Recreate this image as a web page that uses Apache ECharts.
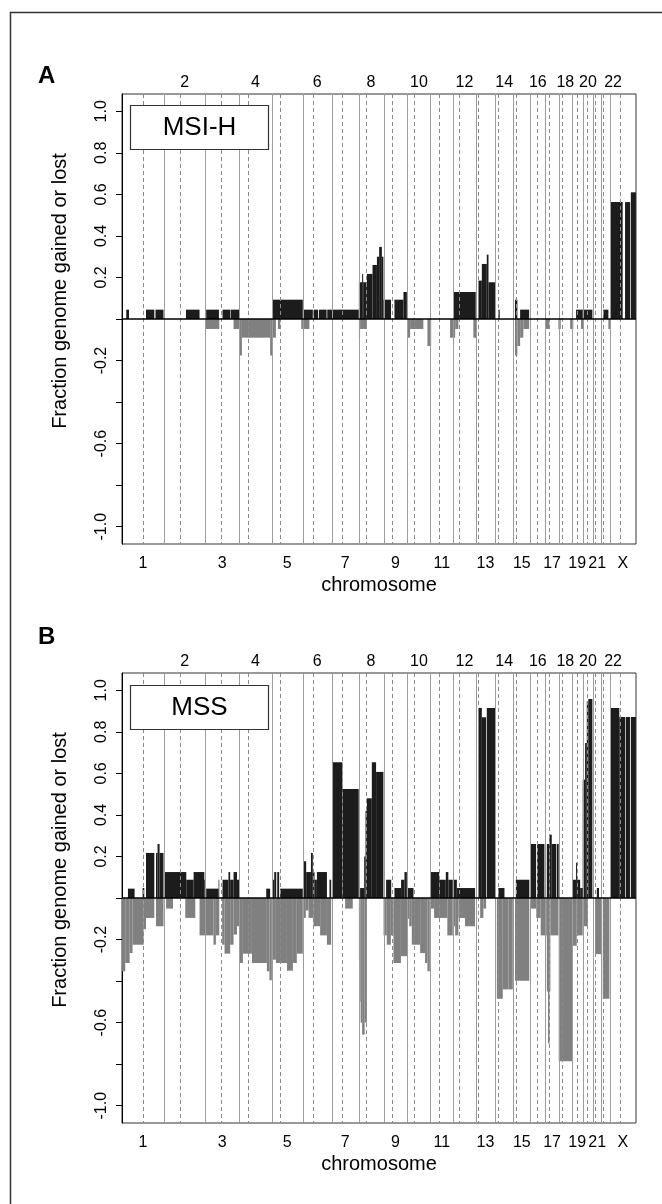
<!DOCTYPE html>
<html><head><meta charset="utf-8">
<script src="https://cdn.jsdelivr.net/npm/echarts@6/dist/echarts.min.js"></script>
<style>html,body{margin:0;padding:0;background:#fff}#c{width:662px;height:1204px}</style>
</head><body><div id="c"></div>
<script>
// ---- chromosome layout (Mb) ----
const chromNames = ['1','2','3','4','5','6','7','8','9','10','11','12','13','14','15','16','17','18','19','20','21','22','X'];
const chromLengths = [247.2,242.8,199.5,191.3,180.9,170.9,158.8,146.3,140.3,135.4,134.5,132.3,114.1,106.4,100.3,88.8,78.8,76.1,63.8,62.4,46.9,49.7,154.9];
const centromeres = [124.3,93.3,91.7,51,47.7,60.5,59.1,45.2,51.8,40.3,52.9,35.4,16,15.6,17,38.2,22.2,16.1,28.5,27.1,12.3,11.8,59.5];
const yTicks = [-1,-0.8,-0.6,-0.4,-0.2,0,0.2,0.4,0.6,0.8,1];
const yLabels = [1,0.8,0.6,0.4,0.2,-0.2,-0.6,-1];

// ---- segments: [start Mb (genome), end Mb (genome), fraction] ----
const msiGains = [
[25,41,0.045],[141,190,0.045],[197,244,0.045],[376,456,0.045],[495,570,0.045],[591,636,0.045],[639,689,0.045],
[882,1063,0.093],[1064,1122,0.045],[1127,1153,0.045],[1158,1203,0.045],[1207,1237,0.045],[1238,1392,0.045],
[1393,1412,0.177],[1412,1418,0.217],[1418,1440,0.177],[1440,1473,0.217],[1473,1499,0.26],[1499,1512,0.30],[1512,1528,0.347],[1528,1537,0.30],
[1538,1582,0.093],[1602,1655,0.093],[1655,1675,0.13],
[1948,2080,0.13],
[2096,2116,0.185],[2116,2145,0.265],[2145,2155,0.31],[2155,2194,0.177],
[2213,2221,0.045],[2311,2325,0.093],[2341,2394,0.045],
[2670,2709,0.045],[2709,2766,0.045],[2830,2860,0.045],
[2870,2944,0.563],[2958,2988,0.563],[2992,3022,0.61]
];
const msiLosses = [
[491,572,-0.048],[656,689,-0.048],[689,705,-0.176],[705,871,-0.09],[871,885,-0.176],[885,905,-0.09],[917,931,-0.048],
[1054,1102,-0.048],[1393,1400,-0.09],[1400,1440,-0.048],
[1681,1694,-0.09],[1694,1772,-0.048],[1796,1818,-0.13],
[1929,1959,-0.09],[1959,1978,-0.048],[2066,2082,-0.09],
[2311,2325,-0.176],[2325,2341,-0.13],[2341,2360,-0.09],[2360,2394,-0.048],
[2488,2513,-0.048],[2566,2580,-0.048],[2635,2654,-0.048],[2699,2713,-0.048],[2860,2874,-0.048]
];
const mssGains = [
[35,74,0.045],[121,131,0.048],[141,190,0.217],[200,209,0.217],[209,221,0.26],[221,244,0.217],
[250,378,0.125],[378,421,0.088],[421,484,0.125],[484,494,0.088],
[495,568,0.045],[568,572,0.088],[591,626,0.088],[626,636,0.125],[636,656,0.088],[656,676,0.125],[676,688,0.088],
[848,871,0.045],
[882,895,0.088],[895,907,0.125],[913,924,0.125],[930,1063,0.045],
[1067,1083,0.177],[1083,1111,0.125],[1111,1122,0.217],[1122,1132,0.125],[1132,1146,0.088],[1146,1205,0.125],[1220,1230,0.088],
[1238,1296,0.653],[1296,1392,0.525],
[1400,1424,0.048],[1424,1432,0.2],[1432,1440,0.42],[1440,1469,0.48],[1469,1494,0.653],[1494,1537,0.607],
[1553,1583,0.088],[1602,1641,0.048],[1641,1661,0.088],[1661,1675,0.125],
[1681,1714,0.048],
[1814,1865,0.125],[1865,1904,0.088],[1904,1919,0.125],[1919,1945,0.088],
[1948,1969,0.088],[1969,2076,0.048],
[2096,2116,0.915],[2116,2141,0.87],[2145,2194,0.915],
[2213,2249,0.048],[2316,2395,0.088],
[2401,2435,0.26],[2441,2484,0.26],
[2498,2513,0.26],[2513,2527,0.305],[2527,2552,0.26],[2556,2568,0.26],
[2650,2670,0.088],[2670,2676,0.17],[2676,2694,0.088],[2694,2709,0.048],
[2709,2723,0.57],[2723,2733,0.746],[2733,2742,0.947],[2742,2766,0.958],
[2792,2805,0.048],
[2870,2924,0.915],[2924,2958,0.872],[2962,2987,0.872],[2992,3022,0.872]
];
const mssLosses = [
[0,19,-0.353],[19,45,-0.313],[45,62,-0.265],[62,127,-0.225],[127,141,-0.15],[141,190,-0.096],[200,244,-0.136],
[259,300,-0.051],[372,431,-0.096],[456,494,-0.18],
[494,538,-0.18],[538,552,-0.225],[552,572,-0.18],[589,603,-0.225],[603,636,-0.268],[636,656,-0.225],[656,676,-0.176],[676,689,-0.136],
[689,711,-0.313],[711,764,-0.268],[764,852,-0.313],[852,867,-0.353],[867,881,-0.396],
[881,905,-0.297],[905,970,-0.313],[970,1005,-0.35],[1005,1028,-0.313],[1028,1063,-0.268],
[1064,1081,-0.096],[1081,1097,-0.06],[1097,1126,-0.096],[1126,1165,-0.136],[1165,1205,-0.18],[1205,1230,-0.225],
[1312,1357,-0.051],
[1393,1397,-0.3],[1397,1403,-0.5],[1403,1412,-0.6],[1412,1427,-0.658],[1427,1440,-0.6],
[1538,1557,-0.18],[1557,1581,-0.225],[1581,1596,-0.18],[1596,1640,-0.313],[1640,1681,-0.28],
[1681,1689,-0.1],[1689,1704,-0.136],[1704,1753,-0.225],[1753,1782,-0.265],[1782,1796,-0.313],[1796,1810,-0.353],
[1814,1835,-0.051],[1835,1913,-0.096],[1913,1945,-0.18],
[1948,1959,-0.136],[1959,1978,-0.18],[1978,2017,-0.096],[2017,2076,-0.136],
[2106,2125,-0.096],[2125,2141,-0.051],
[2204,2239,-0.485],[2239,2272,-0.44],[2272,2298,-0.44],
[2311,2395,-0.398],
[2401,2436,-0.051],[2436,2462,-0.096],[2462,2488,-0.18],
[2490,2498,-0.18],[2498,2505,-0.45],[2505,2514,-0.70],[2514,2519,-0.45],[2519,2566,-0.18],
[2568,2648,-0.786],
[2648,2674,-0.23],[2674,2709,-0.18],
[2709,2739,-0.136],[2782,2821,-0.27],[2827,2866,-0.485]
];

// ---- derived positions ----
const offsets = []; let acc = 0;
chromLengths.forEach(l => { offsets.push(acc); acc += l; });
const genomeLength = acc;
const mids = chromLengths.map((l, i) => offsets[i] + l / 2);
const boundaries = offsets.slice(1).concat([genomeLength]);
const cenPositions = centromeres.map((c, i) => offsets[i] + c);
// label anchor per chromosome (chr22 label nudged right, as in the original figure)
const labelPos = mids.map((m, i) => chromNames[i] === '22' ? m + 45 : m);
const bottomPos = labelPos.filter((m, i) => i % 2 === 0);
const topPos = labelPos.filter((m, i) => i % 2 === 1);
function chromLabel(v) {
  let best = 0, bd = Infinity;
  labelPos.forEach((m, i) => { const d = Math.abs(m - v); if (d < bd) { bd = d; best = i; } });
  return chromNames[best];
}
const YMAX = 1.0833;

const FONT = '"Liberation Sans", Arial, Helvetica, sans-serif';
const GRID_LEFT = 122, GRID_W = 514, GRID_H = 450;
const panelTops = [94, 673];

function barRender(params, api) {
  const s = api.value(0), e = api.value(1), v = api.value(2);
  const p1 = api.coord([s, v]);
  const p2 = api.coord([e, 0]);
  return { type: 'rect',
    shape: { x: p1[0], y: Math.min(p1[1], p2[1]), width: p2[0] - p1[0], height: Math.abs(p2[1] - p1[1]) },
    style: { fill: api.visual('color') } };
}
function vlineRender(dashed) {
  return function (params, api) {
    const x = api.value(0);
    const a = api.coord([x, YMAX]), b = api.coord([x, -YMAX]);
    return { type: 'line', shape: { x1: Math.round(a[0]) + 0.5, y1: a[1], x2: Math.round(a[0]) + 0.5, y2: b[1] },
      style: { stroke: dashed ? '#8a8a8a' : '#9c9c9c', lineWidth: 1, lineDash: dashed ? [4, 3] : null } };
  };
}
function zeroRender(params, api) {
  const a = api.coord([0, 0]), b = api.coord([genomeLength, 0]);
  return { type: 'line', shape: { x1: a[0], y1: a[1], x2: b[0], y2: b[1] }, style: { stroke: '#000', lineWidth: 1.3 } };
}

const grids = [], xAxes = [], yAxes = [], series = [];
const panels = [[msiGains, msiLosses], [mssGains, mssLosses]];
panels.forEach((pd, k) => {
  grids.push({ left: GRID_LEFT, top: panelTops[k], width: GRID_W, height: GRID_H,
    show: true, borderColor: '#333', borderWidth: 1, backgroundColor: 'transparent' });
  const base = { type: 'value', gridIndex: k, min: 0, max: genomeLength,
    splitLine: { show: false }, axisTick: { show: false },
    axisLine: { show: false } };
  xAxes.push(Object.assign({}, base, { position: 'bottom',
    name: 'chromosome', nameLocation: 'middle', nameGap: 31,
    nameTextStyle: { fontFamily: FONT, fontSize: 20, color: '#000' },
    axisLabel: { customValues: bottomPos, formatter: chromLabel, margin: 12, hideOverlap: false,
      showMinLabel: true, showMaxLabel: true,
      fontFamily: FONT, fontSize: 16, color: '#000' } }));
  xAxes.push(Object.assign({}, base, { position: 'top',
    axisLabel: { customValues: topPos, formatter: chromLabel, margin: 3, hideOverlap: false,
      showMinLabel: true, showMaxLabel: true,
      fontFamily: FONT, fontSize: 16, color: '#000' } }));
  yAxes.push({ type: 'value', gridIndex: k, min: -YMAX, max: YMAX,
    splitLine: { show: false },
    axisLine: { show: true, lineStyle: { color: '#000', width: 1 } },
    axisTick: { show: true, customValues: yTicks, length: 6, lineStyle: { color: '#000' } },
    axisLabel: { customValues: yLabels, rotate: 90, margin: 12, formatter: v => v.toFixed(1), hideOverlap: false,
      fontFamily: FONT, fontSize: 16, color: '#000' },
    name: 'Fraction genome gained or lost', nameLocation: 'middle', nameRotate: 90, nameGap: 52,
    nameTextStyle: { fontFamily: FONT, fontSize: 20, color: '#000', padding: [0, 0, 0, 56] } });
  const xi = k * 2;
  series.push({ type: 'custom', name: 'gain', xAxisIndex: xi, yAxisIndex: k, renderItem: barRender,
    data: pd[0], encode: { x: [0, 1], y: 2 }, itemStyle: { color: '#1c1c1c' }, z: 2, silent: true });
  series.push({ type: 'custom', name: 'loss', xAxisIndex: xi, yAxisIndex: k, renderItem: barRender,
    data: pd[1], encode: { x: [0, 1], y: 2 }, itemStyle: { color: '#808080' }, z: 2, silent: true });
  series.push({ type: 'custom', xAxisIndex: xi, yAxisIndex: k, renderItem: vlineRender(false),
    data: boundaries.map(b => [b]), encode: { x: 0 }, z: 3, silent: true, clip: false });
  series.push({ type: 'custom', xAxisIndex: xi, yAxisIndex: k, renderItem: vlineRender(true),
    data: cenPositions.map(b => [b]), encode: { x: 0 }, z: 3, silent: true, clip: false });
  series.push({ type: 'custom', xAxisIndex: xi, yAxisIndex: k, renderItem: zeroRender,
    data: [[0]], encode: { x: 0 }, z: 4, silent: true, clip: false });
});

const chart = echarts.init(document.getElementById('c'), null, { renderer: 'canvas' });
chart.setOption({
  animation: false,
  backgroundColor: '#fff',
  grid: grids, xAxis: xAxes, yAxis: yAxes, series: series,
  graphic: [
    { type: 'rect', shape: { x: 10.5, y: 12.5, width: 700, height: 1250 }, style: { fill: 'none', stroke: '#333', lineWidth: 1.5 }, silent: true },
    { type: 'text', style: { text: 'A', x: 38, y: 76, font: 'bold 24px ' + FONT, fill: '#000', verticalAlign: 'middle' } },
    { type: 'text', style: { text: 'B', x: 38, y: 637, font: 'bold 24px ' + FONT, fill: '#000', verticalAlign: 'middle' } },
    { type: 'rect', shape: { x: 130.5, y: 105.5, width: 138, height: 44 }, style: { fill: '#fff', stroke: '#333', lineWidth: 1.2 }, z: 10 },
    { type: 'text', style: { text: 'MSI-H', x: 199.5, y: 128, font: '26px ' + FONT, fill: '#000', align: 'center', verticalAlign: 'middle' }, z: 11 },
    { type: 'rect', shape: { x: 130.5, y: 685.5, width: 138, height: 44 }, style: { fill: '#fff', stroke: '#333', lineWidth: 1.2 }, z: 10 },
    { type: 'text', style: { text: 'MSS', x: 199.5, y: 707.5, font: '26px ' + FONT, fill: '#000', align: 'center', verticalAlign: 'middle' }, z: 11 }
  ]
});
</script>
</body></html>
